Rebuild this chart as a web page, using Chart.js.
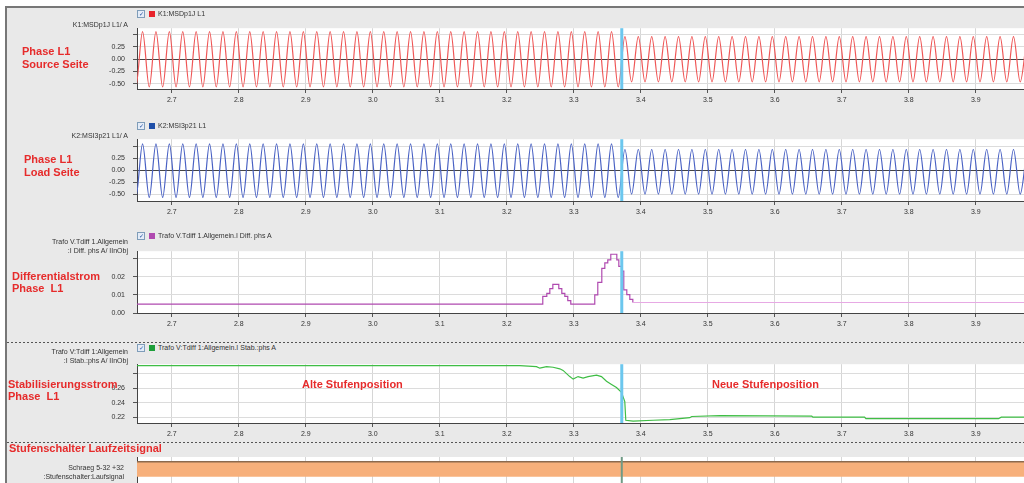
<!DOCTYPE html>
<html>
<head>
<meta charset="utf-8">
<script src="https://cdn.jsdelivr.net/npm/chart.js@4.4.0/dist/chart.umd.min.js"></script>
<style>
html, body { margin: 0; padding: 0; width: 1024px; height: 483px; overflow: hidden; background: #fff; font-family: Arial, "Liberation Sans", sans-serif; }
#frame { position: absolute; left: 5px; top: 6px; width: 1019px; height: 477px; border-top: 2px solid #777; border-left: 2px solid #777; background: #e9e9e9; }
canvas { position: absolute; left: 0; }
.yt { position: absolute; right: 896px; text-align: right; font-size: 7px; line-height: 9px; color: #333; white-space: nowrap; }
.red { position: absolute; color: #e62b2b; font-weight: bold; font-size: 11px; line-height: 11px; white-space: nowrap; }
.dash { position: absolute; left: 7px; width: 1017px; height: 1px; background: repeating-linear-gradient(to right, #555 0 2px, transparent 2px 4px); }
.lg { position: absolute; left: 137px; font-size: 7px; line-height: 8px; color: #333; white-space: nowrap; }
.cb { display: inline-block; width: 6px; height: 6px; border: 1px solid #7f9db9; background: #e4ecf8; vertical-align: top; margin-right: 4px; font-size: 6px; line-height: 6px; text-align: center; color: #1f4f9f; }
.sq { display: inline-block; width: 6px; height: 6px; vertical-align: top; margin: 1px 3px 0 0; }
</style>
</head>
<body>
<div id="frame"></div>

<canvas id="p1" width="1024" height="91" style="top:16px"></canvas>
<canvas id="p2" width="1024" height="92" style="top:127px"></canvas>
<canvas id="p3" width="1024" height="92" style="top:239px"></canvas>
<canvas id="p4" width="1024" height="89" style="top:352px"></canvas>
<canvas id="p5" width="1024" height="40" style="top:449px"></canvas>

<div class="dash" style="top:342px"></div>
<div class="dash" style="top:442px"></div>

<!-- legends -->
<div class="lg" style="top:10px"><span class="cb">✓</span><span class="sq" style="background:#e8232b"></span>K1:MSDp1J L1</div>
<div class="lg" style="top:122px"><span class="cb">✓</span><span class="sq" style="background:#1f4fa8"></span>K2:MSI3p21 L1</div>
<div class="lg" style="top:232px"><span class="cb">✓</span><span class="sq" style="background:#b04ab0"></span>Trafo V.Tdiff 1.Allgemein.I Diff. phs A</div>
<div class="lg" style="top:344px"><span class="cb">✓</span><span class="sq" style="background:#1e9e3a"></span>Trafo V:Tdiff 1:Allgemein.I Stab.:phs A</div>

<!-- y axis titles -->
<div class="yt" style="top:20px">K1:MSDp1J L1/ A</div>
<div class="yt" style="top:131px">K2:MSI3p21 L1/ A</div>
<div class="yt" style="top:237px">Trafo V.Tdiff 1.Allgemein<br>:I Diff. phs A/ IInObj</div>
<div class="yt" style="top:347px">Trafo V:Tdiff 1:Allgemein<br>:I Stab.:phs A/ IInObj</div>
<div class="yt" style="top:463px;right:900px">Schraeg 5-32 +32<br>:Stufenschalter:Laufsignal</div>

<!-- annotations -->
<div class="red" style="left:22px;top:46px">Phase L1</div>
<div class="red" style="left:22px;top:59px">Source Seite</div>
<div class="red" style="left:24px;top:154px">Phase L1</div>
<div class="red" style="left:24px;top:167px">Load Seite</div>
<div class="red" style="left:12px;top:271px">Differentialstrom</div>
<div class="red" style="left:12px;top:283px">Phase&nbsp; L1</div>
<div class="red" style="left:8px;top:379px">Stabilisierungsstrom</div>
<div class="red" style="left:8px;top:391px">Phase&nbsp; L1</div>
<div class="red" style="left:9px;top:443px">Stufenschalter Laufzeitsignal</div>
<div class="red" style="left:302px;top:379px">Alte Stufenposition</div>
<div class="red" style="left:712px;top:379px">Neue Stufenposition</div>

<script>
// time window (s) and cursor position
const X_MIN = 2.648;
const X_MAX = 3.972;
const CURSOR_T = 3.3716;

// peak / trough samples of the phase currents, one every half period (10 ms)
const SAMPLE_T0 = 2.6363;
const HALF_PERIOD = 0.01;
const srcL1 = [
  0.555,-0.565, 0.555,-0.565, 0.555,-0.565, 0.555,-0.565, 0.555,-0.565, 0.555,-0.565, 0.555,-0.565, 0.555,-0.565, 0.555,-0.565, 0.555,-0.565,
  0.555,-0.565, 0.555,-0.565, 0.555,-0.565, 0.555,-0.565, 0.555,-0.565, 0.555,-0.565, 0.555,-0.565, 0.555,-0.565, 0.555,-0.565, 0.555,-0.565,
  0.555,-0.565, 0.555,-0.565, 0.555,-0.565, 0.555,-0.565, 0.555,-0.565, 0.555,-0.565, 0.555,-0.565, 0.555,-0.565, 0.555,-0.565, 0.555,-0.565,
  0.555,-0.565, 0.555,-0.565, 0.555,-0.565, 0.555,-0.565, 0.555,-0.565, 0.555,-0.565, 0.555,-0.565,
  0.455,-0.46, 0.455,-0.46, 0.455,-0.46, 0.455,-0.46, 0.455,-0.46, 0.455,-0.46, 0.455,-0.46, 0.455,-0.46, 0.455,-0.46, 0.455,-0.46,
  0.455,-0.46, 0.455,-0.46, 0.455,-0.46, 0.455,-0.46, 0.455,-0.46, 0.455,-0.46, 0.455,-0.46, 0.455,-0.46, 0.455,-0.46, 0.455,-0.46,
  0.455,-0.46, 0.455,-0.46, 0.455,-0.46, 0.455,-0.46, 0.455,-0.46, 0.455,-0.46, 0.455,-0.46, 0.455,-0.46, 0.455,-0.46, 0.455,-0.46,
  0.455
];
const loadL1 = [
  0.56,-0.57, 0.56,-0.57, 0.56,-0.57, 0.56,-0.57, 0.56,-0.57, 0.56,-0.57, 0.56,-0.57, 0.56,-0.57, 0.56,-0.57, 0.56,-0.57,
  0.56,-0.57, 0.56,-0.57, 0.56,-0.57, 0.56,-0.57, 0.56,-0.57, 0.56,-0.57, 0.56,-0.57, 0.56,-0.57, 0.56,-0.57, 0.56,-0.57,
  0.56,-0.57, 0.56,-0.57, 0.56,-0.57, 0.56,-0.57, 0.56,-0.57, 0.56,-0.57, 0.56,-0.57, 0.56,-0.57, 0.56,-0.57, 0.56,-0.57,
  0.56,-0.57, 0.56,-0.57, 0.56,-0.57, 0.56,-0.57, 0.56,-0.57, 0.56,-0.57, 0.56,-0.57,
  0.44,-0.50, 0.44,-0.50, 0.44,-0.50, 0.44,-0.50, 0.44,-0.50, 0.44,-0.50, 0.44,-0.50, 0.44,-0.50, 0.44,-0.50, 0.44,-0.50,
  0.44,-0.50, 0.44,-0.50, 0.44,-0.50, 0.44,-0.50, 0.44,-0.50, 0.44,-0.50, 0.44,-0.50, 0.44,-0.50, 0.44,-0.50, 0.44,-0.50,
  0.44,-0.50, 0.44,-0.50, 0.44,-0.50, 0.44,-0.50, 0.44,-0.50, 0.44,-0.50, 0.44,-0.50, 0.44,-0.50, 0.44,-0.50, 0.44,-0.50,
  0.44
];

// differential current (I/InObj), value changes at each time
const diffT = [2.648, 3.2537, 3.2597, 3.2642, 3.2687, 3.2776, 3.2821, 3.2866, 3.2910, 3.2955,
               3.3313, 3.3358, 3.3418, 3.3463, 3.3507, 3.3552, 3.3642, 3.3672, 3.3716, 3.3746,
               3.3791, 3.3836, 3.3881, 3.972];
const diffV = [0.0049, 0.0092, 0.0109, 0.0135, 0.0158, 0.0135, 0.0109, 0.0092, 0.0068, 0.0049,
               0.0100, 0.0169, 0.0247, 0.0277, 0.0294, 0.0325, 0.0294, 0.0258, 0.0232, 0.0128,
               0.0102, 0.0075, 0.0058, 0.0058];

// stabilising current (I/InObj)
const stabT = [2.648, 3.2194, 3.2443, 3.2493, 3.2593, 3.2691, 3.2791, 3.2840, 3.2940, 3.2990,
               3.3064, 3.3139, 3.3213, 3.3339, 3.3413, 3.3488, 3.3563, 3.3637, 3.3712, 3.3736,
               3.3761, 3.3776, 3.3885, 3.4184, 3.4433, 3.4731, 3.4760, 3.5179, 3.6552, 3.6570,
               3.7340, 3.7360, 3.9340, 3.9380, 3.972];
const stabV = [0.2914, 0.2914, 0.2901, 0.2880, 0.2901, 0.2893, 0.2871, 0.2849, 0.2764, 0.2729,
               0.2764, 0.2742, 0.2764, 0.2785, 0.2764, 0.2699, 0.2655, 0.2613, 0.2548, 0.2484,
               0.2419, 0.2161, 0.2148, 0.2161, 0.2170, 0.2196, 0.2213, 0.2226, 0.2217, 0.2204,
               0.2204, 0.2183, 0.2183, 0.2204, 0.2204];

// tap changer running signal
const runT = [2.648, 3.972];
const runSig = [1, 1];

Chart.defaults.font.family = 'Arial, "Liberation Sans", sans-serif';

const plotBg = {
  id: 'plotBg',
  beforeDraw(chart) {
    const { ctx, chartArea: a } = chart;
    ctx.save();
    ctx.fillStyle = '#fff';
    ctx.fillRect(a.left, a.top, a.width, a.height);
    ctx.restore();
  }
};
const cursor = {
  id: 'cursor',
  afterDatasetsDraw(chart, args, opts) {
    const { ctx, chartArea: a, scales: { x } } = chart;
    const px = x.getPixelForValue(CURSOR_T);
    ctx.save();
    ctx.strokeStyle = opts.color || '#6cc7ee';
    ctx.lineWidth = opts.width || 3;
    ctx.beginPath();
    ctx.moveTo(px, a.top);
    ctx.lineTo(px, a.bottom);
    ctx.stroke();
    ctx.restore();
  }
};
Chart.register(plotBg, cursor);

const pts = (xs, ys) => xs.map((t, i) => ({ x: t, y: ys[i] }));
const sineT = srcL1.map((_, i) => +(SAMPLE_T0 + i * HALF_PERIOD).toFixed(4));

function options(y, xAxisH, showX, cursorOpts) {
  return {
    responsive: false,
    animation: false,
    events: [],
    layout: { padding: { top: 8, left: 0, right: 0, bottom: 0 } },
    plugins: { legend: { display: false }, tooltip: { enabled: false }, cursor: cursorOpts || {} },
    scales: {
      x: {
        type: 'linear', min: X_MIN, max: X_MAX,
        ticks: { display: showX, stepSize: 0.1, includeBounds: false, autoSkip: false, maxRotation: 0,
                 padding: 3, color: '#333', font: { size: 7 }, callback: v => v.toFixed(1) },
        grid: { color: '#d6d6d6', tickColor: '#555', tickLength: 4, drawTicks: showX },
        border: { display: showX, color: '#444' },
        afterFit: s => { s.height = xAxisH; }
      },
      y: {
        min: y.min, max: y.max,
        ticks: {
          display: y.step !== undefined,
          stepSize: y.step, includeBounds: false, padding: 8, color: '#333', font: { size: 7 },
          callback: v => (v > y.hideAbove ? '' : v.toFixed(2))
        },
        grid: {
          display: y.step !== undefined,
          color: c => (y.zero && c.tick && Math.abs(c.tick.value) < 1e-9 ? '#444' : '#dcdcdc'),
          tickColor: '#555', tickLength: 4
        },
        border: { color: '#444' },
        afterFit: s => { s.width = 137; }
      }
    }
  };
}

new Chart(document.getElementById('p1'), {
  type: 'line',
  data: { datasets: [{ data: pts(sineT, srcL1), borderColor: '#ef5757', borderWidth: 1.2,
                       pointRadius: 0, cubicInterpolationMode: 'monotone' }] },
  options: options({ min: -0.606, max: 0.625, step: 0.25, hideAbove: 0.4, zero: true }, 18, true)
});

new Chart(document.getElementById('p2'), {
  type: 'line',
  data: { datasets: [{ data: pts(sineT, loadL1), borderColor: '#4a62c4', borderWidth: 1.2,
                       pointRadius: 0, cubicInterpolationMode: 'monotone' }] },
  options: options({ min: -0.645, max: 0.657, step: 0.25, hideAbove: 0.4, zero: true }, 18, true)
});

new Chart(document.getElementById('p3'), {
  type: 'line',
  data: { datasets: [{ data: pts(diffT, diffV), borderColor: '#b04ab0', borderWidth: 1.2,
                       pointRadius: 0, stepped: true,
                       segment: { borderColor: c => (c.p0.parsed.x >= 3.388 ? '#e7a9e4' : undefined) } }] },
  options: options({ min: 0, max: 0.0342, step: 0.01, hideAbove: 0.025 }, 18, true)
});

new Chart(document.getElementById('p4'), {
  type: 'line',
  data: { datasets: [{ data: pts(stabT, stabV), borderColor: '#3fbd45', borderWidth: 1.2,
                       pointRadius: 0, tension: 0 }] },
  options: options({ min: 0.2123, max: 0.2935, step: 0.02, hideAbove: 0.27 }, 18, true)
});

new Chart(document.getElementById('p5'), {
  type: 'line',
  data: { datasets: [{ data: pts(runT, runSig), borderColor: '#8b6a4e', borderWidth: 1.5,
                       backgroundColor: '#f7b07b', fill: 'origin', pointRadius: 0 }] },
  options: options({ min: -0.82, max: 1.31 }, 0, false, { color: '#6f9a85', width: 2 })
});
</script>
</body>
</html>
